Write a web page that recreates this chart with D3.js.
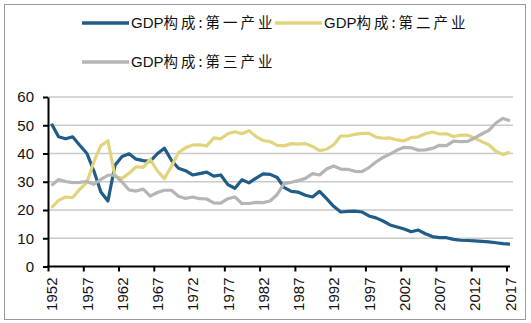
<!DOCTYPE html>
<html lang="zh">
<head>
<meta charset="UTF-8">
<title>GDP构成</title>
<script src="https://d3js.org/d3.v7.min.js"></script>
<style>
  body { margin: 0; background: #fff; }
  svg { display: block; }
  .tick text { font-family: "Liberation Sans", Arial, sans-serif; font-size: 15px; fill: #111; }
  .legend text { font-family: "Liberation Sans Narrow", "Liberation Sans", Arial, "Noto Sans CJK SC", sans-serif; font-size: 15px; fill: #111; }
  .legend .cjk { font-family: "Noto Sans CJK SC", sans-serif; font-size: 14.5px; letter-spacing: 3px; }
</style>
</head>
<body>
<svg id="chart" width="531" height="323"></svg>
<script>
// years on the category axis
var years = d3.range(1952, 2018);

// GDP composition (%)
var primary = [50.5,45.9,45.2,45.9,42.9,40.1,33.9,26.4,23.2,35.8,
               38.9,39.9,38.0,37.5,37.2,39.9,41.9,37.6,34.8,33.9,
               32.4,32.9,33.4,32.0,32.4,29.0,27.7,30.7,29.6,31.3,
               32.8,32.6,31.5,27.9,26.6,26.3,25.2,24.6,26.6,24.0,
               21.3,19.3,19.5,19.6,19.3,17.9,17.2,16.1,14.7,14.0,
               13.3,12.3,12.9,11.6,10.6,10.2,10.2,9.6,9.3,9.2,
               9.1,8.9,8.7,8.4,8.1,7.9];
var secondary = [20.8,23.4,24.6,24.4,27.3,29.7,37.0,42.8,44.5,31.9,
                 31.2,33.0,35.3,35.1,37.9,33.9,31.1,35.4,40.3,42.0,
                 43.0,43.1,42.7,45.5,45.2,47.0,47.7,47.0,48.1,46.0,
                 44.6,44.2,42.9,42.7,43.5,43.3,43.5,42.5,41.0,41.5,
                 43.1,46.2,46.2,46.8,47.1,47.1,45.8,45.4,45.5,44.8,
                 44.5,45.6,45.9,47.0,47.6,46.9,47.0,46.0,46.5,46.5,
                 45.4,44.2,43.1,40.8,39.6,40.5];
var tertiary = [28.7,30.8,30.1,29.7,29.8,30.1,29.1,30.8,32.3,32.3,
                29.9,27.1,26.7,27.4,24.9,26.2,27.0,27.0,24.9,24.1,
                24.6,24.0,23.9,22.5,22.4,24.0,24.6,22.3,22.3,22.7,
                22.6,23.2,25.5,29.4,29.8,30.4,31.2,32.9,32.4,34.5,
                35.6,34.5,34.4,33.7,33.6,35.0,37.0,38.6,39.8,41.2,
                42.2,42.0,41.2,41.3,41.8,42.9,42.8,44.4,44.2,44.3,
                45.5,46.9,48.2,50.8,52.4,51.6];

var seriesPrefix = "GDP";
var seriesNames = ["构成:第一产业", "构成:第二产业", "构成:第三产业"];
var seriesColors = ["#1f5c88", "#e2d47c", "#b5b5b5"];
var xTicks = d3.range(1952, 2018, 5);
var yTicks = [0, 10, 20, 30, 40, 50, 60];

var svg = d3.select("#chart");

// outer frame
svg.append("rect")
   .attr("x", 4.5).attr("y", 4.5)
   .attr("width", 521).attr("height", 315)
   .attr("fill", "none")
   .attr("stroke", "#9a9a9a");

var x = d3.scaleLinear().domain([1952, 2017]).range([51.5, 510]);
var y = d3.scaleLinear().domain([0, 60]).range([266.5, 97]);
var half = 3.5; // ticks sit on the left edge of each category

// grid lines
svg.append("g")
   .selectAll("line")
   .data(yTicks.slice(1))
   .join("line")
   .attr("x1", 48).attr("x2", 513)
   .attr("y1", d => y(d)).attr("y2", d => y(d))
   .attr("stroke", "#c9c9c9")
   .attr("stroke-width", 1.5);

// lines
var line = d3.line()
             .x((d, i) => x(years[i]))
             .y(d => y(d));

[primary, secondary, tertiary].forEach(function(s, k) {
  svg.append("path")
     .datum(s)
     .attr("d", line)
     .attr("fill", "none")
     .attr("stroke", seriesColors[k])
     .attr("stroke-width", 3.2)
     .attr("stroke-linejoin", "round");
});

// y axis
var yAxis = svg.append("g")
   .attr("transform", "translate(48,0)")
   .call(d3.axisLeft(y).tickValues(yTicks).tickSize(5).tickPadding(9).tickSizeOuter(0));
yAxis.select(".domain").attr("stroke", "#000").attr("stroke-width", 2);
yAxis.selectAll(".tick line").attr("stroke", "#000").attr("stroke-width", 2);

// x axis
var xAxis = svg.append("g")
   .attr("transform", "translate(0," + y(0) + ")")
   .call(d3.axisBottom(x).tickValues(xTicks).tickFormat(d3.format("d")).tickSize(5).tickSizeOuter(0));
xAxis.select(".domain").attr("d", "M47,0H510").attr("stroke", "#000").attr("stroke-width", 2);
xAxis.selectAll(".tick line")
     .attr("x1", -half).attr("x2", -half)
     .attr("stroke", "#000").attr("stroke-width", 2);
xAxis.selectAll(".tick text")
     .attr("transform", "rotate(-90)")
     .attr("text-anchor", "end")
     .attr("x", -11).attr("y", 0).attr("dy", "0.35em");

// legend
var legendPos = [[82, 23], [275, 23], [82, 62]];
var legend = svg.append("g").attr("class", "legend");
seriesNames.forEach(function(name, k) {
  var p = legendPos[k];
  legend.append("line")
        .attr("x1", p[0]).attr("x2", p[0] + 47)
        .attr("y1", p[1]).attr("y2", p[1])
        .attr("stroke", seriesColors[k])
        .attr("stroke-width", 3.5);
  var t = legend.append("text")
        .attr("x", p[0] + 49).attr("y", p[1] + 5);
  t.append("tspan").text(seriesPrefix);
  t.append("tspan").attr("class", "cjk").text(name);
});
</script>
</body>
</html>
